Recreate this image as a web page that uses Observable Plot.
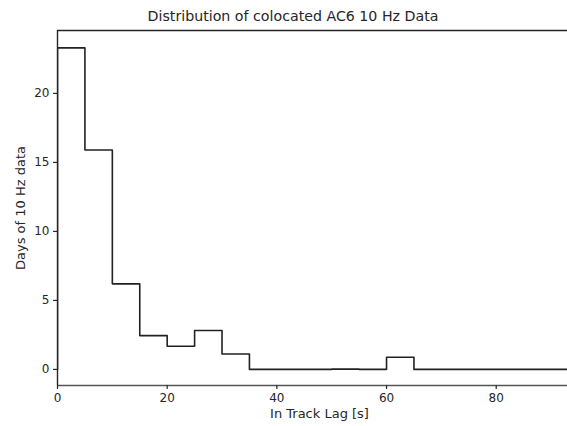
<!DOCTYPE html>
<html>
<head>
<meta charset="utf-8">
<script src="https://cdn.jsdelivr.net/npm/d3@7"></script>
<script src="https://cdn.jsdelivr.net/npm/@observablehq/plot@0.6"></script>
<style>
  html, body { margin: 0; padding: 0; background: #fff; }
  #title { height: 24px; width: 567px; font: 14.2px "DejaVu Sans", sans-serif; color: #262626; line-height: 24px; box-sizing: border-box; position: relative; }
  #title span { position: absolute; left: 293px; transform: translateX(-50%); white-space: nowrap; top: 4px; }
</style>
</head>
<body>
<div id="title"><span>Distribution of colocated AC6 10 Hz Data</span></div>
<div id="chart"></div>
<script>
const binStarts = [0, 5, 10, 15, 20, 25, 30, 35, 40, 45, 50, 55, 60, 65, 70, 75, 80, 85, 90];
const counts    = [23.3, 15.9, 6.2, 2.45, 1.68, 2.82, 1.12, 0, 0, 0, 0.02, 0, 0.88, 0, 0, 0, 0, 0, 0];
const binWidth = 5;
const xTicks = [0, 20, 40, 60, 80];
const yTicks = [0, 5, 10, 15, 20];
const xDomain = [0, 93];
const yDomain = [-1.165, 24.56];

const pts = [{x: binStarts[0], y: 0}];
binStarts.forEach((s, i) => pts.push({x: s, y: counts[i]}));
pts.push({x: binStarts[binStarts.length - 1] + binWidth, y: counts[counts.length - 1]});

const ink = "#262626";
const chart = Plot.plot({
  width: 567,
  height: 402,
  marginTop: 6,
  marginLeft: 57,
  marginRight: 0,
  marginBottom: 41,
  style: {fontFamily: "DejaVu Sans, sans-serif", fontSize: "12px", color: ink, background: "#fff"},
  x: {domain: xDomain, ticks: xTicks},
  y: {domain: yDomain, ticks: yTicks},
  marks: [
    Plot.line(pts, {x: "x", y: "y", curve: "step-after", stroke: "#222", strokeWidth: 1.6, clip: true}),
    Plot.ruleY([yDomain[1]], {stroke: ink, strokeWidth: 1.4}),
    Plot.ruleY([yDomain[0]], {stroke: "#555", strokeWidth: 1.4}),
    Plot.ruleX([xDomain[0]], {stroke: ink, strokeWidth: 1.4}),
    Plot.axisX({ticks: xTicks, tickSize: 4, tickPadding: 4, label: null, stroke: ink, strokeWidth: 1.2}),
    Plot.axisY({ticks: yTicks, tickSize: 4, tickPadding: 4, label: null, stroke: ink, strokeWidth: 1.2}),
    Plot.text(["Days of 10 Hz data"], {frameAnchor: "left", textAnchor: "middle", dx: -37, rotate: -90, fontSize: 13, fill: ink}),
    Plot.text(["In Track Lag [s]"], {frameAnchor: "bottom", textAnchor: "middle", lineAnchor: "middle", dx: 7, dy: 28, fontSize: 13, fill: ink})
  ]
});
document.getElementById("chart").appendChild(chart);
</script>
</body>
</html>
